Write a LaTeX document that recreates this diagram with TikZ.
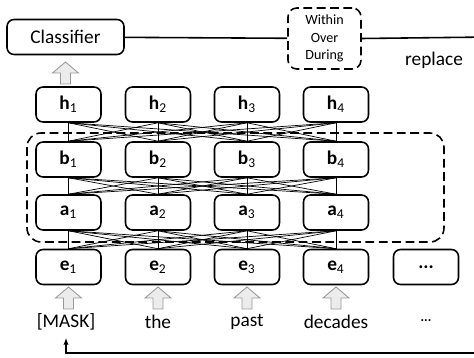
\documentclass[tikz,border=0pt]{standalone}
\usepackage{fontspec}
\setmainfont{Carlito}
\usetikzlibrary{arrows.meta}

\tikzset{
	cell/.style={draw, rounded corners=4pt, line width=0.9pt, minimum width=1.3cm, minimum height=0.7cm, inner sep=0pt, font=\fontsize{11}{12}\selectfont},
	dashbox/.style={draw, rounded corners=5pt, line width=0.9pt, dash pattern=on 5pt off 2.6pt},
	word/.style={font=\fontsize{11}{12}\selectfont, inner sep=0pt},
	inarrow/.pic={
		\draw[gray!80, fill=gray!15, line width=0.5pt] (-5,11) -- (-5,0) -- (-13,0) -- (0,-11) -- (13,0) -- (5,0) -- (5,11) -- cycle;
	}
}

\begin{document}
\begin{tikzpicture}[x=0.02cm, y=-0.02cm]
	\useasboundingbox (0,0) rectangle (474,358);

	% top part
	\node[cell, minimum width=2.34cm] at (65.5, 37) (cls) {Classifier};
	\node[dashbox, minimum width=1.46cm, minimum height=1.22cm, align=center, font=\fontsize{8}{10}\selectfont] at (324.5, 38.5) (sub) {Within\\Over\\During};
	\node[word] at (434, 60) (rep) {replace};
	\draw[line width=0.9pt] (cls) -- (sub);
	\pic at (65.5, 73) {inarrow};

	% layers
	\foreach \i/\x in {1/68.5, 2/158, 3/247, 4/336} {
		\node[cell] at (\x, 104.5) (h\i) {\textbf{h}\textsubscript{\i}};
		\node[cell] at (\x, 159.5) (b\i) {\textbf{b}\textsubscript{\i}};
		\node[cell] at (\x, 212.5) (a\i) {\textbf{a}\textsubscript{\i}};
		\node[cell] at (\x, 267) (e\i) {\textbf{e}\textsubscript{\i}};
		\pic at (\x, 298) {inarrow};
	}
	\node[cell] at (426, 267) (e5) {\textbf{...}};

	% full connections
	\foreach \i in {1,...,4} {
		\foreach \j in {1,...,4} {
			\draw[line width=0.4pt] (h\i.south) -- (b\j.north);
			\draw[line width=0.4pt] (b\i.south) -- (a\j.north);
			\draw[line width=0.4pt] (a\i.south) -- (e\j.north);
		}
	}

	\draw[dashbox, rounded corners=8pt] (27, 133) rectangle (444, 242);

	% input words
	\node[word] at (66, 322) (w1) {[MASK]};
	\node[word] at (158, 322) (w2) {the};
	\node[word] at (247, 322) (w3) {past};
	\node[word] at (336, 322) (w4) {decades};
	\node[word, font=\fontsize{8}{10}\selectfont] at (426, 322) (w5) {\textperiodcentered\textperiodcentered\textperiodcentered};

	% feedback
	\coordinate (rt) at (490, 37);
	\coordinate (rb) at (490, 353);
	\draw[line width=0.9pt, -{Latex[length=4pt, width=3pt]}] (sub.east) -- (rt) -- (rb) -| ([yshift=-4pt]w1.south);
\end{tikzpicture}
\end{document}
